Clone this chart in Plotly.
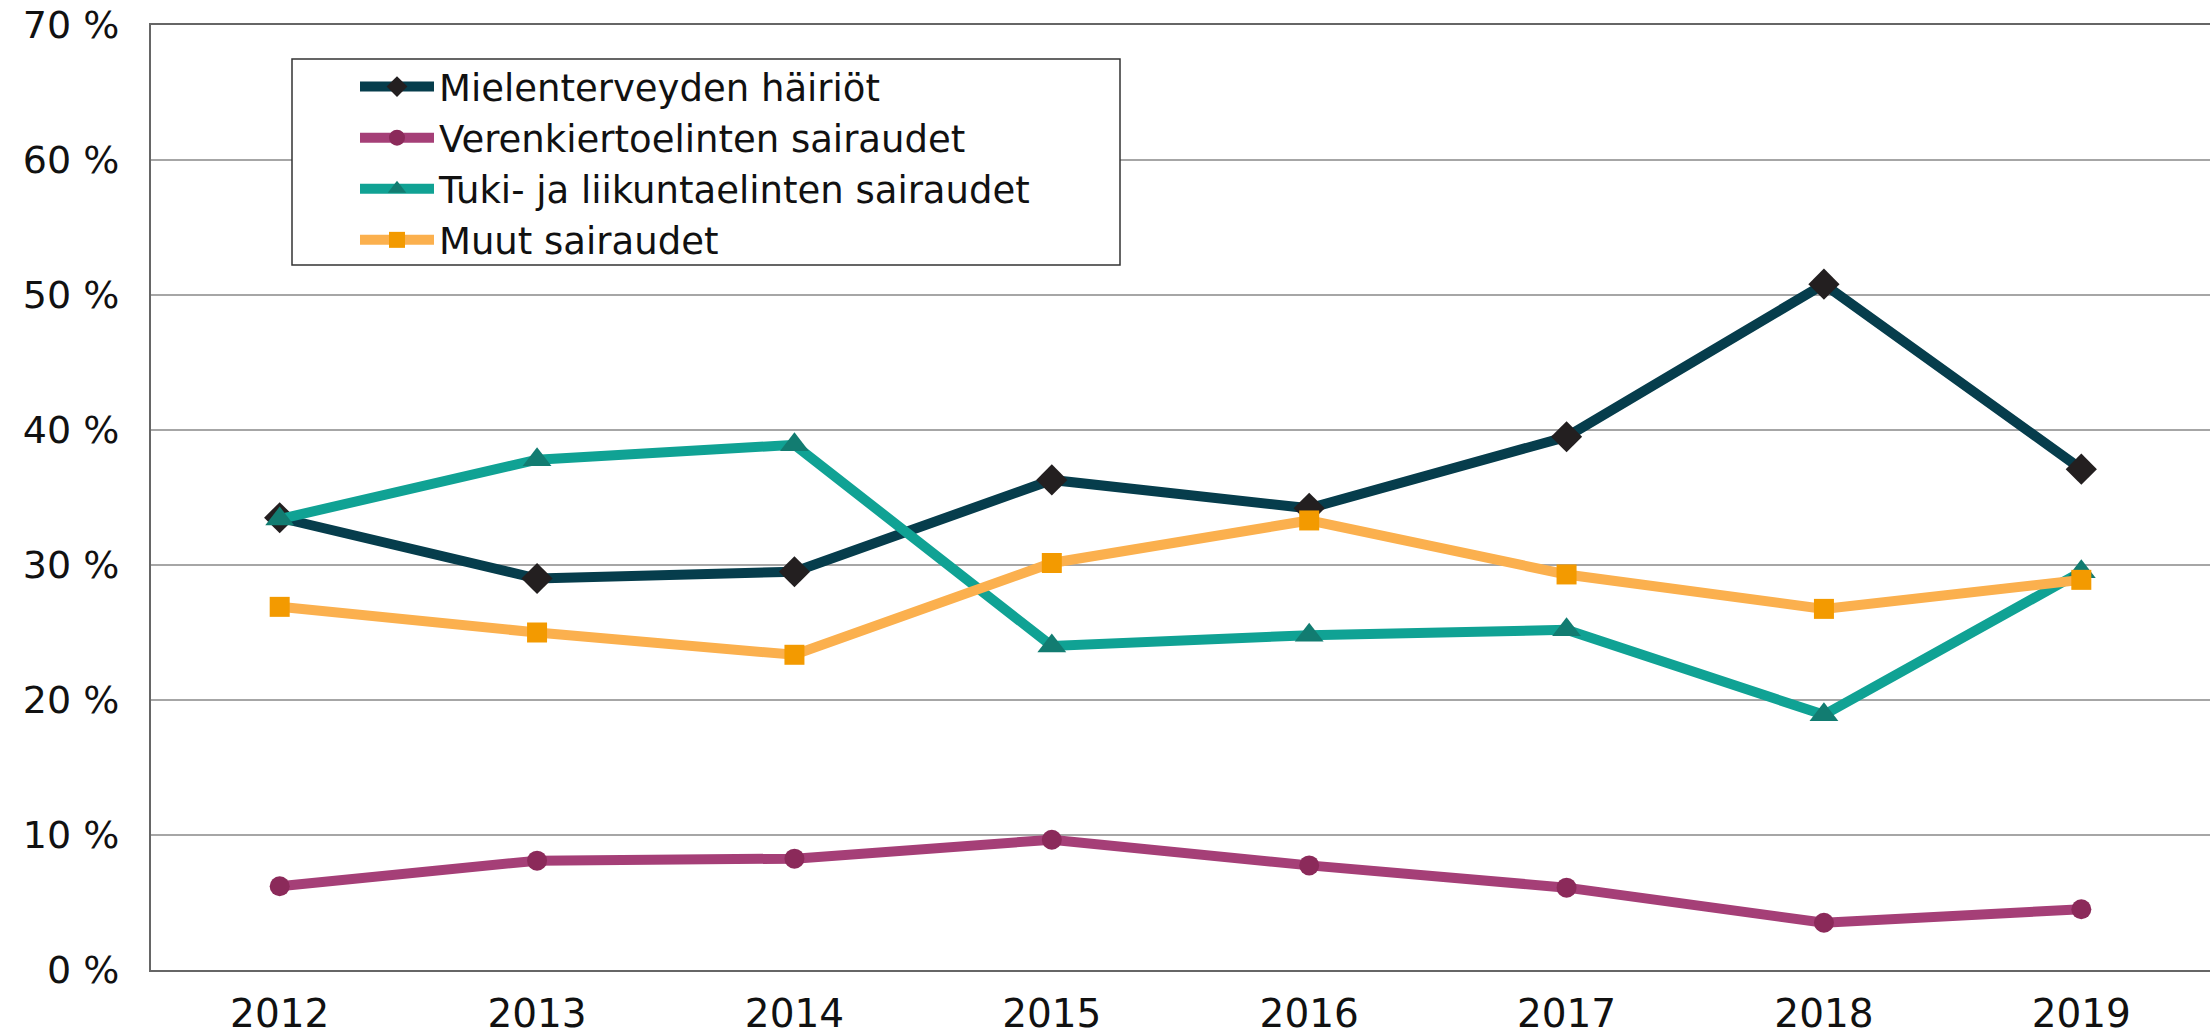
import plotly.graph_objects as go

years = ["2012", "2013", "2014", "2015", "2016", "2017", "2018", "2019"]
mielenterveys = [33.5, 29.0, 29.5, 36.3, 34.2, 39.5, 50.8, 37.1]
verenkierto = [6.2, 8.1, 8.25, 9.65, 7.75, 6.1, 3.5, 4.5]
tuki_liikunta = [33.4, 37.8, 38.9, 24.0, 24.8, 25.2, 18.9, 29.5]
muut = [26.9, 25.0, 23.35, 30.15, 33.3, 29.3, 26.75, 28.9]

series_names = [
    "Mielenterveyden häiriöt",
    "Verenkiertoelinten sairaudet",
    "Tuki- ja liikuntaelinten sairaudet",
    "Muut sairaudet",
]
y_ticks = [0, 10, 20, 30, 40, 50, 60, 70]
y_tick_labels = ["0 %", "10 %", "20 %", "30 %", "40 %", "50 %", "60 %", "70 %"]

styles = [
    dict(line="#063d4c", marker="#231f20", symbol="diamond", size=24),
    dict(line="#a53f77", marker="#8b2a5a", symbol="circle", size=20),
    dict(line="#10a294", marker="#127c71", symbol="triangle-up", size=25),
    dict(line="#fbb04e", marker="#f39a00", symbol="square", size=20),
]

W, H = 2210, 1036
L, T, B = 151, 25, 66
PW, PH = W - L, H - T - B

fig = go.Figure()
for i, (name, vals) in enumerate(zip(series_names, [mielenterveys, verenkierto, tuki_liikunta, muut])):
    s = styles[i]
    fig.add_trace(go.Scatter(
        x=years, y=vals, name=name, mode="lines+markers",
        legendgroup=f"g{i}",
        line=dict(color=s["line"], width=10),
        marker=dict(color=s["marker"], symbol=s["symbol"], size=s["size"], line=dict(width=0)),
    ))

# legend frame (pixel box of the reference legend)
box_l, box_t, box_r, box_b = 292, 59, 1120, 265
fig.add_shape(
    type="rect", xref="paper", yref="paper", layer="above",
    x0=(box_l - L) / PW, x1=(box_r - L) / PW,
    y0=(H - B - box_b) / PH, y1=(H - B - box_t) / PH,
    fillcolor="white", line=dict(color="#333333", width=1.5),
)

fig.update_layout(
    width=W, height=H,
    margin=dict(l=L, r=0, t=T, b=B),
    paper_bgcolor="white", plot_bgcolor="white",
    font=dict(family="DejaVu Sans, Verdana, sans-serif", color="#1a1a1a"),
    showlegend=True,
    legend=dict(
        x=(box_l - L) / PW, y=(H - B - 56) / PH, xanchor="left", yanchor="top",
        bgcolor="rgba(0,0,0,0)", borderwidth=0,
        font=dict(family="DejaVu Sans, Verdana, sans-serif", size=37, color="#111111"),
        tracegroupgap=0,
        itemwidth=74,
        indentation=63,
    ),
    xaxis=dict(
        type="category", range=[-0.5, 7.5],
        showgrid=False, showline=True, linecolor="#666666", linewidth=2,
        ticks="", tickfont=dict(size=39, color="#111111"),
        ticklabelstandoff=8,
        mirror=True, automargin=False,
    ),
    yaxis=dict(
        range=[0, 70], tickvals=y_ticks, ticktext=y_tick_labels,
        showgrid=True, gridcolor="#a6a6a6", gridwidth=1.5,
        showline=True, linecolor="#666666", linewidth=2, mirror=True,
        ticks="", tickfont=dict(size=38, color="#111111"),
        ticklabelstandoff=22,
        zeroline=False, automargin=False,
    ),
)

fig.write_html(
    "out.html",
    config={"displayModeBar": False},
    post_script="document.body.style.margin='0';document.body.style.overflow='hidden';",
)
